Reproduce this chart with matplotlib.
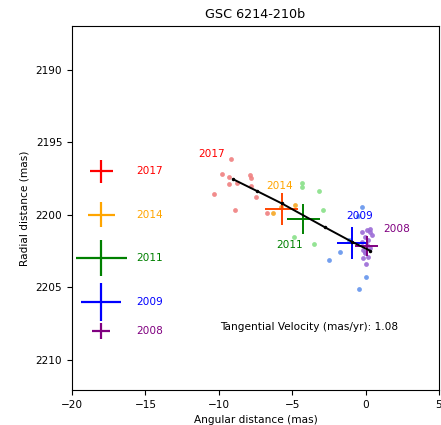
import numpy as np
import matplotlib.pyplot as plt

plt.rcParams['font.size'] = 7.6

years = ['2017', '2014', '2011', '2009', '2008']
colors = ['red', 'orange', 'green', 'blue', 'purple']
dot_colors = ['#f08080', '#f5a623', '#88e088', '#6495ed', '#9b6bd6']

# individual measurements per epoch
x_2017 = [-9.19, -9.80, -9.28, -7.87, -7.81, -9.28, -8.74, -7.83, -10.31, -7.47, -8.90, -6.70]
y_2017 = [2196.14, 2197.17, 2197.36, 2197.24, 2197.43, 2197.88, 2197.77, 2198.0, 2198.53, 2198.74, 2199.66, 2199.88]
x_2014 = [-4.81, -6.29, -5.75]
y_2014 = [2199.33, 2199.84, 2199.45]
x_2011 = [-4.35, -4.35, -3.15, -2.88, -4.86, -3.49]
y_2011 = [2197.77, 2198.09, 2198.32, 2199.66, 2201.54, 2202.02]
x_2009 = [-0.22, -0.55, -1.74, -2.49, 0.03, -0.45, -1.15]
y_2009 = [2199.48, 2200.05, 2202.57, 2203.1, 2204.3, 2205.1, 2201.75]
x_2008 = [0.07, 0.30, -0.04, 0.18, -0.27, 0.07, 0.30, -0.16, -0.04, 0.18, -0.16, 0.01,
          0.30, -0.27, 0.41, -0.04]
y_2008 = [2201.03, 2201.2, 2201.5, 2201.72, 2201.84, 2202.07, 2202.3, 2202.41, 2202.64,
          2202.87, 2202.99, 2203.38, 2200.99, 2201.15, 2201.38, 2202.53]

# mean positions with uncertainties (2014, 2011, 2009, 2008)
mean_x = [-5.72, -4.24, -0.90, 0.07]
mean_y = [2199.6, 2200.3, 2201.95, 2202.14]
mean_xerr = [1.1, 1.13, 1.02, 0.76]
mean_yerr = [1.1, 1.03, 1.09, 0.7]
mean_colors = ['orangered', 'green', 'blue', 'purple']

# error size key on the left
key_y = [2197, 2200, 2203, 2206, 2208]
key_xerr = [0.8, 0.91, 1.75, 1.36, 0.61]
key_yerr = [0.8, 0.86, 1.24, 1.32, 0.54]

# predicted track
track_x = [-9.0, -7.42, -5.72, -2.77, -0.95, 0.3]
track_y = [2197.55, 2198.34, 2199.2, 2200.85, 2201.84, 2202.46]

label_x = [-10.5, -5.88, -5.2, -0.38, 2.1]
label_y = [2195.8, 2198.0, 2202.1, 2200.07, 2200.95]

fig = plt.figure(figsize=(4.41, 4.25), dpi=100)
ax = fig.add_axes([72/441, 35/425, 367/441, 364/425])

pts = [(x_2017, y_2017), (x_2014, y_2014), (x_2011, y_2011), (x_2009, y_2009), (x_2008, y_2008)]
for (px, py), c in zip(pts, dot_colors):
    ax.scatter(px, py, s=12, color=c, alpha=0.9, linewidths=0, zorder=2)

for mx, my, ex, ey, c in zip(mean_x, mean_y, mean_xerr, mean_yerr, mean_colors):
    ax.errorbar(mx, my, xerr=ex, yerr=ey, color=c, lw=1.4, zorder=3)

ax.plot(track_x, track_y, 'k-', lw=1.4, marker='.', markersize=3, zorder=4)

for ky, ex, ey, c, yr in zip(key_y, key_xerr, key_yerr, colors, years):
    ax.errorbar(-18, ky, xerr=ex, yerr=ey, color=c, lw=1.6)
    ax.text(-15.6, ky, yr, color=c, va='center', ha='left')

for lx, ly, c, yr in zip(label_x, label_y, colors, years):
    ax.text(lx, ly, yr, color=c, va='center', ha='center')

ax.text(-9.9, 2207.75, 'Tangential Velocity (mas/yr): 1.08', va='center', ha='left')

ax.set_xlim(-20, 5)
ax.set_ylim(2212.07, 2186.97)
ax.set_yticks([2190, 2195, 2200, 2205, 2210])
ax.set_xlabel('Angular distance (mas)')
ax.set_ylabel('Radial distance (mas)')
ax.set_title('GSC 6214-210b', fontsize=9.2)

fig.savefig('out.png', dpi=100)
